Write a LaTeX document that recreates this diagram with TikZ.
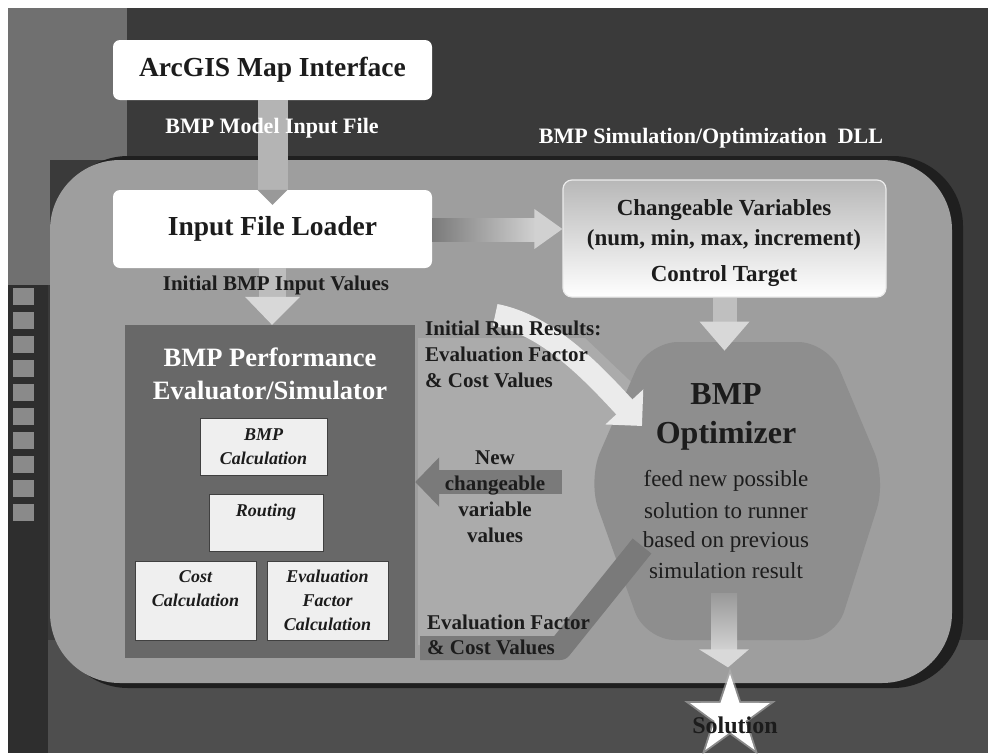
\documentclass[tikz,border=0pt]{standalone}
\usepackage{fontspec}
\setmainfont{Liberation Serif}
\usetikzlibrary{shapes.geometric,calc,arrows.meta}
\definecolor{bgdark}{HTML}{3A3A3A}
\definecolor{bgbot}{HTML}{4E4E4E}
\definecolor{bgmid}{HTML}{707070}
\definecolor{filmc}{HTML}{2E2E2E}
\definecolor{filmsq}{HTML}{8A8A8A}
\definecolor{panel}{HTML}{9E9E9E}
\definecolor{evalc}{HTML}{686868}
\definecolor{ringc}{HTML}{7A7A7A}
\definecolor{ringin}{HTML}{ABABAB}
\definecolor{optc}{HTML}{8E8E8E}
\definecolor{txtdark}{HTML}{1C1C1C}
\definecolor{shaftc}{HTML}{B4B4B4}
\definecolor{headc}{HTML}{D8D8D8}
\definecolor{iboxc}{HTML}{EFEFEF}
\begin{document}
\begin{tikzpicture}[x=1pt,y=-1pt,
  wbox/.style={fill=white,rounded corners=7pt,inner sep=0pt,text=txtdark,
    font=\bfseries\fontsize{27.5}{30}\selectfont},
  lblw/.style={inner sep=0pt,text=white,font=\bfseries\fontsize{22}{26}\selectfont},
  lbld/.style={inner sep=0pt,text=txtdark,font=\bfseries\fontsize{21}{26}\selectfont},
  chgtxt/.style={inner sep=0pt,text=txtdark,font=\bfseries\fontsize{23}{28}\selectfont},
  evtitle/.style={inner sep=0pt,text=white,font=\bfseries\fontsize{26.5}{30}\selectfont},
  ibox/.style={fill=iboxc,draw=black!75,line width=0.8pt,inner sep=0pt,align=center,
    text=txtdark,font=\bfseries\itshape\fontsize{18}{24}\selectfont},
  cyc/.style={inner sep=0pt,text=txtdark,font=\bfseries\fontsize{21}{26}\selectfont},
  opttitle/.style={inner sep=0pt,text=txtdark,font=\bfseries\fontsize{32}{36}\selectfont},
  opttxt/.style={inner sep=0pt,text=txtdark,font=\fontsize{23}{28}\selectfont}
]
\useasboundingbox (0,0) rectangle (988,753);
\fill[white] (0,0) rectangle (988,753);
% background
\fill[bgdark] (8,8) rectangle (988,753);
\fill[bgbot] (48,640) rectangle (988,753);
\fill[bgmid] (8,8) rectangle (127,160);
\fill[bgmid] (8,160) rectangle (50,285);
\fill[filmc] (8,285) rectangle (48,753);
\foreach \i in {0,...,9} \fill[filmsq] (13,{288+\i*24}) rectangle (34,{305+\i*24});
% main panel
\fill[black!88,rounded corners=70pt] (58,156) rectangle (963,688);
\fill[panel,rounded corners=70pt] (50,160) rectangle (952,683);
% cycle area
\fill[ringin] (418,338) -- (585,338) -- (650,400) -- (650,560) -- (565,645) -- (418,645) -- cycle;
% optimizer shape
\fill[optc,rounded corners=30pt] (648,342) -- (828,342) -- (886,480) -- (835,640) -- (645,640) -- (588,480) -- cycle;
% dark lower return band
\draw[ringc,line width=24pt,line join=round] (420,648) -- (560,648) -- (642,546);

% boxes
\node[wbox,minimum width=319pt,minimum height=60pt] (arcgis) at (272.5,70) {ArcGIS Map Interface};
\node[wbox,minimum width=319pt,minimum height=78pt] (loader) at (272.5,229) {Input File Loader};
\node[fill=evalc,minimum width=290pt,minimum height=333pt,inner sep=0pt] (eval) at (270,491.5) {};
\node[rounded corners=9pt,top color=black!28,bottom color=white,draw=white!92!black,line width=1.2pt,
      minimum width=323pt,minimum height=117pt,inner sep=0pt] (chg) at (724.5,238.5) {};

% arrow ArcGIS -> loader
\fill[shaftc] ($(arcgis.south)+(-15,0)$) rectangle ($(loader.north)+(15,0)$);
\fill[black!40] ($(loader.north)+(-15,0)$) -- ($(loader.north)+(15,0)$) -- ($(loader.north)+(0,15)$) -- cycle;
\node[lblw] (lblmodel) at (272,128) {BMP Model Input File};

% arrow loader -> eval
\fill[black!26] ($(loader.south)+(-14,0)$) rectangle ($(eval.north)+(16,-28)$);
\fill[headc] ($(eval.north)+(-25,-28)$) -- ($(eval.north)+(30,-28)$) -- ($(eval.north)+(2,0)$) -- cycle;
\node[lbld] (lblinit) at (276,285) {Initial BMP Input Values};

% arrow loader -> changeable
\shade[left color=black!52,right color=black!18] ($(loader.east)+(0,-11)$) rectangle ($(chg.west |- loader.east)+(-26,12)$);
\fill[black!18] ($(chg.west |- loader.east)+(-28,-20)$) -- ($(chg.west |- loader.east)+(0,0)$) -- ($(chg.west |- loader.east)+(-28,20)$) -- cycle;

% changeable texts
\node[chgtxt] (chg1) at (724,210) {Changeable Variables};
\node[chgtxt] (chg2) at (724,240) {(num, min, max, increment)};
\node[chgtxt] (chg3) at (724,276) {Control Target};
\node[lblw] (lbldll) at (711,138) {BMP Simulation/Optimization\ \ DLL};

% arrow changeable -> optimizer
\fill[black!25] ($(chg.south)+(-12,0)$) rectangle ($(chg.south)+(12,24)$);
\fill[headc] ($(chg.south)+(-25,24)$) -- ($(chg.south)+(25,24)$) -- ($(chg.south)+(0,53)$) -- cycle;

% evaluator contents
\node[evtitle] (evt1) at (270,357) {BMP Performance};
\node[evtitle] (evt2) at (270,390) {Evaluator/Simulator};
\node[ibox,minimum width=127pt,minimum height=57pt] (bmpcalc) at (263.5,447) {BMP\\Calculation};
\node[ibox,minimum width=114pt,minimum height=57pt] (routing) at (266,522.5) {Routing\\\mbox{}};
\node[ibox,minimum width=121pt,minimum height=79pt] (costcalc) at (195.5,600.5) {Cost\\Calculation\\\mbox{}};
\node[ibox,minimum width=121pt,minimum height=79pt] (evalcalc) at (327.5,600.5) {Evaluation\\Factor\\Calculation};

% white arrow: initial run results -> optimizer
\coordinate (optin) at (642,426);
\draw[white!92!black,line width=22pt,-{Triangle[length=26pt,width=50pt]}] ($(eval.north east)+(80,-10)$) .. controls (548,325) and (592,372) .. (optin);
% dark arrow: optimizer -> evaluator
\coordinate (newsrc) at (562,482);
\draw[ringc,line width=24pt,-{Triangle[length=24pt,width=48pt]}] (newsrc) -- (eval.east |- newsrc);

% cycle labels
\node[cyc,anchor=west] (ir1) at (425,328) {Initial Run Results:};
\node[cyc,anchor=west] (ir2) at (425,354) {Evaluation Factor};
\node[cyc,anchor=west] (ir3) at (425,380) {\& Cost Values};
\node[cyc,align=center] (nv) at (495,497) {New\\changeable\\variable\\values};
\node[cyc,anchor=west] (ef1) at (427,622) {Evaluation Factor};
\node[cyc,anchor=west] (ef2) at (427,647) {\& Cost Values};

% optimizer texts
\node[opttitle] (opt1) at (726,394) {BMP};
\node[opttitle] (opt2) at (726,436) {Optimizer};
\node[opttxt] (opt3) at (726,481) {feed new possible};
\node[opttxt] (opt4) at (726,511) {solution to runner};
\node[opttxt] (opt5) at (726,542) {based on previous};
\node[opttxt] (opt6) at (726,571) {simulation result};

% solution
\node[star,star points=5,star point ratio=2.6,minimum size=96pt,inner sep=0pt,
      fill=white!70!black,opacity=0.6] (starglow) at (730,716) {};
\node[star,star points=5,star point ratio=2.6,minimum size=84pt,inner sep=0pt,
      fill=white] (star) at (730,716) {};
\shade[top color=black!40,bottom color=black!18] ($(opt6.south)+(-15,14)$) rectangle ($(opt6.south)+(11,70)$);
\fill[black!15] ($(opt6.south)+(-27,70)$) -- ($(opt6.south)+(23,70)$) -- ($(star.north)+(-2,-6)$) -- cycle;
\node[inner sep=0pt,text=txtdark,font=\bfseries\fontsize{24}{28}\selectfont] (sol) at (735,725) {Solution};
\end{tikzpicture}
\end{document}
